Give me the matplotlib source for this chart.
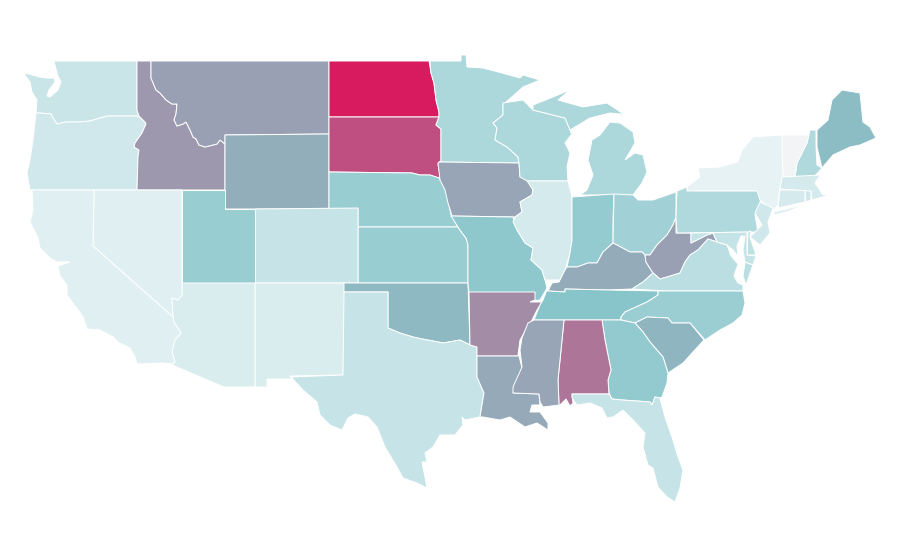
# -*- coding: utf-8  -*-
import matplotlib
matplotlib.use('Agg')
import matplotlib.pyplot as plt
from matplotlib.colors import LinearSegmentedColormap, Normalize

# state outlines in map units
WA = [(54,61),(137,61),(137,110),(139,116),(108,116),(100,118),(90,121),(80,122),(66,122),(57,124),(53,118),(51,114),(40,113),(36,113),(37,100),(32,92),(30,82),(25,75),(25,73),(40,77),(46,78),(54,78),(55,82),(49,90),(47,96),(50,97),(58,90),(61,82),(58,76),(56,69)]
OR = [(36,113),(40,113),(51,114),(53,118),(57,124),(66,122),(80,122),(90,121),(100,118),(108,116),(139,116),(145,122),(146,124),(142,133),(135,143),(134,147),(139,150),(138,157),(137,190),(30,190),(27,173),(30,160),(33,140)]
ID = [(137,61),(151,61),(151,78),(156,90),(160,93),(166,100),(172,104),(177,104),(176,114),(174,120),(177,126),(183,124),(186,122),(190,130),(193,137),(196,139),(199,145),(205,147),(217,144),(220,140),(225,144),(225,190),(137,190),(138,157),(139,150),(134,147),(135,143),(142,133),(146,124),(145,122),(139,116),(137,110)]
MT = [(151,61),(329,61),(329,134),(225,135),(225,144),(220,140),(217,144),(205,147),(199,145),(196,139),(193,137),(190,130),(186,122),(183,124),(177,126),(174,120),(176,114),(177,104),(172,104),(166,100),(160,93),(156,90),(151,78)]
WY = [(225,135),(329,134),(329,209),(225,209)]
ND = [(329,61),(429,61),(431,73),(434,83),(436,100),(439,112),(439,117),(329,117)]
SD = [(329,117),(439,117),(436,125),(441,129),(441,162),(438,164),(440,175),(439,178),(430,175),(420,175),(412,173),(329,172)]
NE = [(329,172),(412,173),(420,175),(430,175),(439,178),(442,183),(446,192),(449,205),(451,215),(455,222),(458,227),(358,227),(358,209),(329,209)]
KS = [(358,227),(458,227),(462,233),(466,238),(468,245),(468,283),(358,283)]
CO = [(255,209),(358,208),(358,283),(255,283)]
UT = [(182,190),(225,190),(225,209),(255,209),(255,283),(182,283)]
NM = [(255,283),(345,283),(343,375),(290,376),(292,379),(267,379),(267,387),(255,387)]
AZ = [(182,283),(255,283),(255,387),(224,387),(172,365),(175,362),(172,352),(175,340),(181,333),(174,322),(173,317),(172,302),(172,298),(178,300),(182,295)]
NV = [(94,190),(182,190),(182,295),(178,300),(172,298),(172,302),(173,317),(93,246)]
CA = [(32,190),(94,190),(93,246),(173,317),(174,322),(181,333),(175,340),(172,352),(175,362),(172,364),(163,363),(137,364),(135,357),(130,348),(118,342),(113,337),(100,330),(87,329),(83,317),(73,303),(67,295),(67,285),(60,276),(58,266),(70,262),(57,262),(50,258),(40,248),(38,238),(30,222),(33,210)]
OK = [(344,283),(468,283),(470,345),(460,340),(443,343),(433,341),(422,339),(413,337),(400,333),(388,328),(388,292),(344,292)]
TX = [(344,292),(388,292),(388,328),(400,333),(413,337),(422,339),(433,341),(443,343),(460,340),(470,345),(477,347),(477,377),(484,393),(480,417),(465,420),(462,417),(463,425),(455,435),(440,435),(433,447),(425,453),(427,462),(422,462),(425,477),(427,488),(417,483),(403,478),(397,467),(385,447),(377,427),(368,417),(355,414),(348,418),(342,430),(330,425),(320,415),(317,402),(303,390),(291,377),(343,375)]
MN = [(430,61),(461,61),(461,55),(466,55),(467,67),(483,68),(502,73),(520,78),(523,75),(540,80),(523,87),(505,103),(503,105),(503,115),(493,123),(497,128),(495,140),(507,147),(518,157),(519,163),(439,162),(441,162),(441,129),(436,125),(439,117),(439,112),(436,100),(434,83),(431,73)]
IA = [(439,162),(519,163),(520,177),(527,178),(533,190),(532,195),(520,202),(522,212),(515,217),(452,216),(448,203),(445,190),(440,180),(438,163)]
MO = [(451,216),(513,217),(515,223),(517,230),(525,243),(533,248),(531,260),(542,270),(545,280),(547,288),(543,295),(540,300),(531,301),(535,293),(469,293),(468,283),(468,245),(466,238),(462,233),(458,227)]
AR = [(469,292),(535,292),(535,300),(530,302),(542,302),(537,310),(532,320),(527,328),(520,340),(518,355),(519,356),(477,356),(477,347),(470,345)]
LA = [(477,356),(519,356),(522,368),(513,393),(539,394),(540,405),(532,405),(530,412),(540,412),(548,423),(548,430),(537,423),(525,427),(510,417),(500,420),(483,417),(480,417),(484,393),(477,377)]
WI = [(503,103),(523,100),(533,110),(565,118),(569,127),(571,133),(580,123),(565,143),(570,153),(567,167),(568,181),(527,181),(520,177),(519,163),(518,157),(507,147),(495,140),(497,128),(493,123),(503,115)]
MI_UP = [(533,105),(558,95),(570,90),(558,100),(583,107),(607,103),(622,113),(630,115),(610,113),(590,118),(570,130),(565,118),(533,110)]
MI_LP = [(580,195),(587,190),(593,175),(588,160),(592,140),(600,135),(610,122),(620,123),(633,132),(635,143),(625,160),(635,153),(643,155),(647,172),(642,183),(633,195)]
IL = [(527,181),(568,181),(572,197),(572,220),(572,240),(570,253),(565,270),(560,280),(550,280),(545,280),(542,270),(531,260),(533,248),(525,243),(517,230),(513,222),(515,217),(522,212),(520,202),(532,195),(533,190)]
IN = [(572,197),(614,194),(613,220),(613,243),(603,252),(597,263),(588,263),(577,267),(567,267),(570,253),(572,240)]
OH = [(614,194),(633,195),(638,200),(653,200),(676,192),(676,217),(673,225),(667,235),(657,245),(650,255),(645,255),(642,252),(630,252),(617,245),(613,243)]
KY = [(613,243),(617,245),(630,252),(642,252),(645,255),(646,262),(653,273),(643,282),(632,289),(608,290),(565,289),(565,292),(548,291),(552,283),(559,282),(565,270),(567,267),(577,267),(588,263),(597,263),(603,252)]
WV = [(676,217),(676,233),(691,233),(691,243),(707,235),(713,233),(717,242),(708,239),(698,250),(690,255),(685,262),(680,273),(667,277),(660,279),(653,273),(646,262),(645,255),(650,255),(657,245),(667,235),(673,225)]
VA = [(632,289),(643,282),(653,273),(660,279),(667,277),(680,273),(685,262),(690,255),(698,250),(708,239),(717,242),(727,245),(731,256),(738,264),(734,276),(738,283),(743,285),(743,291),(667,291)]
VA_SHORE = [(745,262),(753,265),(746,285),(743,276)]
TN = [(548,291),(565,292),(565,289),(608,290),(658,291),(658,295),(647,302),(625,312),(621,317),(621,320),(534,320),(540,305),(543,300),(547,290)]
NC = [(658,291),(743,291),(745,303),(742,315),(733,323),(720,330),(705,340),(690,323),(672,323),(668,318),(647,317),(635,323),(621,320),(621,317),(625,312),(647,302),(658,295)]
SC = [(635,323),(647,317),(668,318),(672,323),(690,323),(704,340),(693,352),(683,363),(668,373),(663,357),(650,342),(643,332)]
GA = [(602,320),(621,320),(635,323),(643,332),(650,342),(663,357),(668,373),(667,383),(662,397),(660,398),(655,397),(652,405),(650,402),(637,401),(622,400),(612,399),(609,393),(608,380),(611,370),(605,340)]
AL = [(564,320),(602,320),(605,340),(611,370),(608,380),(609,394),(572,394),(573,403),(570,406),(566,399),(560,405),(559,405),(558,380),(560,360)]
MS = [(534,320),(564,320),(560,360),(558,380),(559,405),(543,407),(540,402),(539,394),(513,393),(513,387),(522,367),(520,350),(522,338),(528,323)]
FL = [(572,394),(609,394),(612,399),(622,400),(637,401),(650,402),(652,405),(655,397),(660,398),(665,417),(672,437),(678,457),(683,470),(680,488),(675,502),(667,497),(658,487),(653,468),(648,465),(643,447),(645,433),(633,420),(623,410),(613,417),(607,418),(602,408),(590,403),(577,405),(572,398)]
ME = [(817,130),(828,120),(832,100),(842,90),(860,93),(863,122),(870,127),(876,138),(860,145),(850,147),(833,155),(822,168),(817,147)]
NH = [(810,130),(816,130),(816,147),(817,165),(822,168),(814,177),(795,177),(797,163),(807,143)]
VT = [(782,135),(809,135),(807,143),(797,163),(795,177),(783,177),(782,153)]
NY = [(753,137),(782,135),(782,153),(783,177),(780,187),(778,205),(773,210),(757,198),(757,191),(687,191),(687,187),(700,177),(698,168),(720,167),(738,162),(742,150)]
LI = [(773,212),(803,205),(787,212),(775,215)]
PA = [(677,191),(687,187),(687,191),(757,191),(761,203),(755,215),(758,232),(677,233),(676,217)]
NJ = [(760,202),(773,208),(768,222),(770,233),(760,245),(750,237),(762,225),(755,213)]
CT = [(780,190),(805,190),(805,202),(778,208)]
RI = [(805,190),(811,191),(811,200),(806,202)]
MA = [(782,177),(820,175),(815,183),(823,195),(833,194),(812,200),(811,191),(780,189)]
DE = [(748,232),(751,231),(750,237),(756,255),(747,255)]
MD = [(691,233),(747,232),(747,255),(756,256),(753,265),(745,262),(743,250),(745,236),(741,236),(737,246),(738,256),(733,250),(727,245),(717,242),(713,233),(707,235),(691,243)]

state_shapes = [WA, OR, ID, MT, WY, ND, SD, NE, KS, CO, UT, NM, AZ, NV, CA, OK, TX, MN, IA, MO, AR, LA, WI, MI_UP, MI_LP, IL, IN, OH, KY, WV, VA, VA_SHORE, TN, NC, SC, GA, AL, MS, FL, ME, NH, VT, NY, LI, PA, NJ, CT, RI, MA, DE, MD]
state_values = [14.3, 11.8, 52, 49, 44, 100, 80, 30, 30, 15, 30, 8.8, 8.8, 6.5, 6.5, 40, 15, 23.5, 47, 33, 57, 46, 23.5, 23.5, 23.5, 10.5, 31, 27, 45, 49, 19, 19, 35, 29, 41, 32, 65, 47, 15, 38, 22.6, 0, 4.6, 6, 22, 12, 10.5, 12, 10.5, 17, 16]

scale_stops = [(0.0, '#f3f4f6'), (0.046, '#e5f2f4'), (0.15, '#c6e4e7'), (0.35, '#88c5ca'), (1.0, '#d81b5f')]


def main():
    cmap = LinearSegmentedColormap.from_list('rate', scale_stops)
    norm = Normalize(0, 100)
    fig = plt.figure(figsize=(9, 5.6), dpi=100)
    ax = fig.add_axes([0, 0, 1, 1])
    for shape, value in zip(state_shapes, state_values):
        xs, ys = zip(*shape)
        ax.fill(xs, ys, facecolor=cmap(norm(value)), edgecolor='white', linewidth=0.7)
    ax.set_xlim(0, 900)
    ax.set_ylim(560, 0)
    ax.axis('off')
    fig.savefig('out.png', dpi=100)


if __name__ == '__main__':
    main()
